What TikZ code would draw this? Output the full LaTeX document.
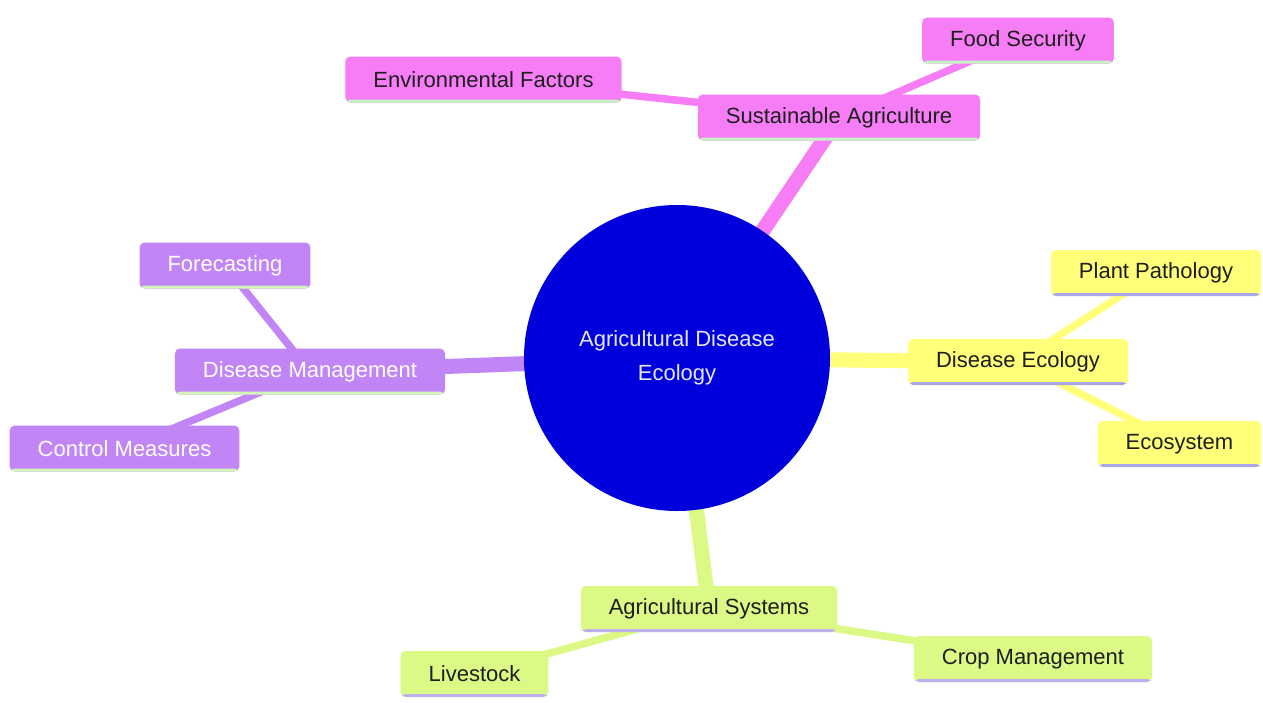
\documentclass[tikz,border=0pt]{standalone}
\usepackage{fontspec}
\setmainfont{Liberation Sans}
\usetikzlibrary{backgrounds}

\definecolor{rootblue}{HTML}{0000DD}
\definecolor{rootink}{HTML}{E6E6FF}
\definecolor{pinkfill}{HTML}{F67DF6}
\definecolor{yellowfill}{HTML}{FFFF7A}
\definecolor{purplefill}{HTML}{C285F5}
\definecolor{limefill}{HTML}{DAF985}
\definecolor{mintline}{HTML}{C6F2C4}
\definecolor{blueline}{HTML}{A8A6E8}
\definecolor{lilacline}{HTML}{BDB0EC}
\definecolor{paleline}{HTML}{D4F5B8}
\definecolor{darkink}{HTML}{1E1E1E}

\tikzset{
  topic/.style n args={2}{rectangle, rounded corners=5pt, fill=#1,
    minimum height=46pt, inner xsep=28pt, inner ysep=4pt, text=darkink,
    font=\fontsize{22}{26}\selectfont,
    path picture={\fill[#2] ([yshift=-1pt]path picture bounding box.south west)
      rectangle ([yshift=3pt]path picture bounding box.south east);}},
  main/.style={line width=15pt},
  sub/.style={line width=7.5pt}
}

\begin{document}
\begin{tikzpicture}[x=1pt,y=-1pt]
  \useasboundingbox (0,0) rectangle (1263,702);
  % centre
  \node (root) [circle, fill=rootblue, minimum size=306pt, inner sep=0pt, text=rootink,
    align=center, font=\fontsize{22}{34}\selectfont] at (677,358)
    {Agricultural Disease\\Ecology};
  % pink branch
  \node (susag) [topic={pinkfill}{mintline}] at (839,117.5) {Sustainable Agriculture};
  \node (envfac) [topic={pinkfill}{mintline}] at (483.5,79.5) {Environmental Factors};
  \node (foodsec) [topic={pinkfill}{mintline}] at (1018,40.5) {Food Security};
  % yellow branch
  \node (diseco) [topic={yellowfill}{blueline}] at (1018,362) {Disease Ecology};
  \node (plantpath) [topic={yellowfill}{blueline}] at (1156,273) {Plant Pathology};
  \node (ecosys) [topic={yellowfill}{blueline}] at (1179.5,444) {Ecosystem};
  % purple branch
  \node (dismgmt) [topic={purplefill}{paleline}, text=white] at (310,371.5) {Disease Management};
  \node (forecast) [topic={purplefill}{paleline}, text=white] at (225,265.5) {Forecasting};
  \node (control) [topic={purplefill}{paleline}, text=white] at (124.5,448.5) {Control Measures};
  % green branch
  \node (agsys) [topic={limefill}{lilacline}] at (709,609) {Agricultural Systems};
  \node (livestock) [topic={limefill}{lilacline}] at (474.5,674) {Livestock};
  \node (cropmgmt) [topic={limefill}{lilacline}] at (1033,659) {Crop Management};

  \begin{pgfonlayer}{background}
    \fill[white] (0,0) rectangle (1263,702);
    \draw[main, pinkfill] (root.center) -- (susag.center);
    \draw[sub, pinkfill] (susag.center) -- (envfac.center);
    \draw[sub, pinkfill] (susag.center) -- (foodsec.center);
    \draw[main, yellowfill] (root.center) -- (diseco.center);
    \draw[sub, yellowfill] (diseco.center) -- (plantpath.center);
    \draw[sub, yellowfill] (diseco.center) -- (ecosys.center);
    \draw[main, purplefill] (root.center) -- (dismgmt.center);
    \draw[sub, purplefill] (dismgmt.center) -- (forecast.center);
    \draw[sub, purplefill] (dismgmt.center) -- (control.center);
    \draw[main, limefill] (root.center) -- (agsys.center);
    \draw[sub, limefill] (agsys.center) -- (livestock.center);
    \draw[sub, limefill] (agsys.center) -- (cropmgmt.center);
  \end{pgfonlayer}
\end{tikzpicture}
\end{document}
